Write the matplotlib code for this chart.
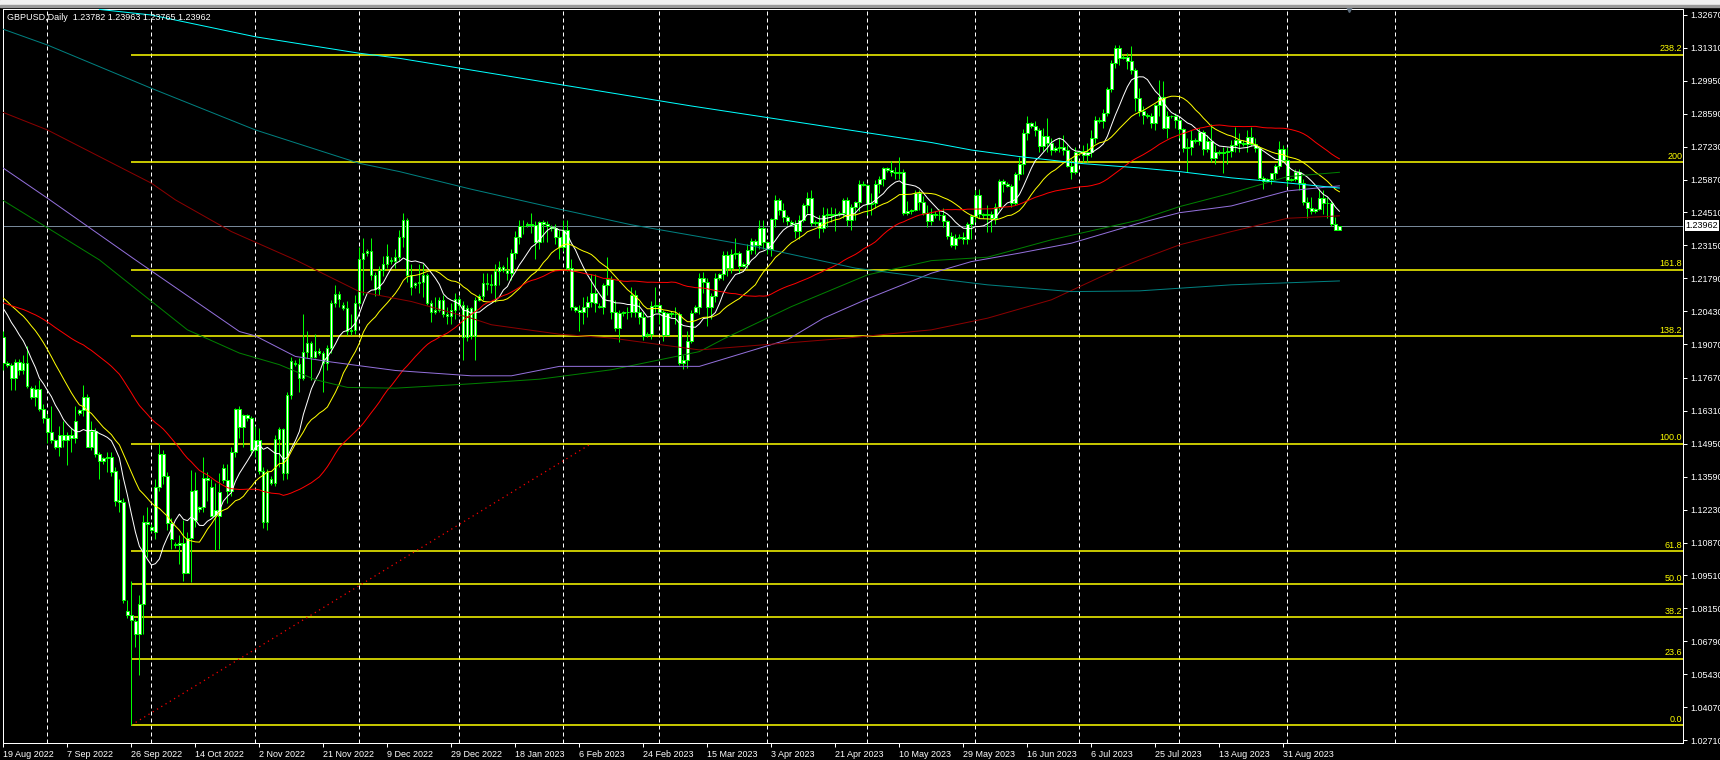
import numpy as np
import pandas as pd
import matplotlib
matplotlib.use('Agg')
import matplotlib.pyplot as plt
import matplotlib.transforms as mtrans
from matplotlib.patches import Rectangle

plt.rcParams['font.family'] = ['Liberation Sans', 'DejaVu Sans']

# daily bars of the broker: Sunday..Friday, no Saturdays
missing_days = ['2022-12-25', '2023-01-01', '2023-07-04']
all_days = pd.date_range('2022-08-19', '2023-09-17', freq='D')
bar_days = all_days[(all_days.dayofweek != 5) & ~all_days.isin(pd.to_datetime(missing_days))]

# one line per week (Sun..Fri)
opens = [1.1935,
    1.1830, 1.1822, 1.1768, 1.1834, 1.1800, 1.1830,
    1.1726, 1.1689, 1.1721, 1.1640, 1.1600, 1.1545,
    1.1511, 1.1480, 1.1530, 1.1510, 1.1530, 1.1520,
    1.1622, 1.1635, 1.1688, 1.1481, 1.1546, 1.1452,
    1.1424, 1.1437, 1.1440, 1.1384, 1.1262, 1.1256,
    1.0803, 1.0789, 1.0763, 1.0709, 1.0834, 1.1173,
    1.1150, 1.1131, 1.1317, 1.1454, 1.1361, 1.1169,
    1.1080, 1.1078, 1.1086, 1.0962, 1.1107, 1.1305,
    1.1225, 1.1235, 1.1355, 1.1317, 1.1200, 1.1198,
    1.1396, 1.1345, 1.1300, 1.1462, 1.1640, 1.1566,
    1.1615, 1.1603, 1.1471, 1.1510, 1.1383, 1.1172,
    1.1350, 1.1335, 1.1516, 1.1557, 1.1376, 1.1698,
    1.1830, 1.1825, 1.1767, 1.1876, 1.1913, 1.1855,
    1.1880, 1.1870, 1.1830, 1.1890, 1.2078, 1.2115,
    1.2070, 1.2058, 1.1962, 1.1965, 1.2078, 1.2259,
    1.2284, 1.2290, 1.2193, 1.2135, 1.2215, 1.2236,
    1.2255, 1.2250, 1.2268, 1.2351, 1.2420, 1.2193,
    1.2150, 1.2160, 1.2165, 1.2193, 1.2078, 1.2040,
    1.2050, 1.2090, 1.2030, 1.2025, 1.2050,
    1.2094, 1.2070, 1.1935, 1.2055, 1.1940,
    1.2090, 1.2105, 1.2160, 1.2155, 1.2150, 1.2210,
    1.2225, 1.2215, 1.2200, 1.2284, 1.2350, 1.2395,
    1.2400, 1.2405, 1.2400, 1.2329, 1.2413, 1.2405,
    1.2390, 1.2385, 1.2350, 1.2308, 1.2380, 1.2222,
    1.2060, 1.2050, 1.2040, 1.2060, 1.2080, 1.2120,
    1.2065, 1.2060, 1.2150, 1.2175, 1.2040, 1.1974,
    1.2035, 1.2040, 1.2040, 1.2110, 1.2040, 1.2020,
    1.1945, 1.1950, 1.2066, 1.2070, 1.2040, 1.1945,
    1.2035, 1.2030, 1.2030, 1.1830, 1.1840, 1.1920,
    1.2040, 1.2060, 1.2181, 1.2165, 1.2060, 1.2105,
    1.2180, 1.2195, 1.2276, 1.2220, 1.2280, 1.2285,
    1.2230, 1.2240, 1.2295, 1.2334, 1.2315, 1.2387,
    1.2330, 1.2300, 1.2424, 1.2503, 1.2462, 1.2434,
    1.2410, 1.2405, 1.2375, 1.2420, 1.2480, 1.2510,
    1.2408, 1.2410, 1.2385, 1.2440, 1.2445, 1.2440,
    1.2443, 1.2448, 1.2503, 1.2420, 1.2475, 1.2495,
    1.2569, 1.2565, 1.2486, 1.2490, 1.2569, 1.2590,
    1.2635, 1.2625, 1.2620, 1.2615, 1.2620, 1.2449,
    1.2455, 1.2460, 1.2530, 1.2495, 1.2450, 1.2415,
    1.2445, 1.2440, 1.2440, 1.2415, 1.2355, 1.2315,
    1.2345, 1.2350, 1.2340, 1.2405, 1.2435, 1.2525,
    1.2445, 1.2440, 1.2445, 1.2430, 1.2475, 1.2580,
    1.2570, 1.2560, 1.2490, 1.2610, 1.2650, 1.2780,
    1.2820, 1.2810, 1.2790, 1.2725, 1.2765, 1.2740,
    1.2710, 1.2718, 1.2720, 1.2710, 1.2645, 1.2620,
    1.2700, 1.2705, 1.2690, 1.2700, 1.2760,
    1.2835, 1.2830, 1.2860, 1.2960, 1.3070, 1.3131,
    1.3090, 1.3095, 1.3075, 1.3040, 1.2925, 1.2870,
    1.2855, 1.2850, 1.2820, 1.2895, 1.2928, 1.2800,
    1.2850, 1.2848, 1.2835, 1.2795, 1.2719, 1.2720,
    1.2751, 1.2748, 1.2785, 1.2713, 1.2746, 1.2675,
    1.2700, 1.2698, 1.2700, 1.2705, 1.2729, 1.2751,
    1.2740, 1.2735, 1.2763, 1.2735, 1.2718, 1.2594,
    1.2580, 1.2588, 1.2614, 1.2642, 1.2713, 1.2668,
    1.2585, 1.2590, 1.2620, 1.2572, 1.2496, 1.2470,
    1.2458, 1.2465, 1.2510, 1.2490, 1.2490, 1.2404,
    1.23782]

highs = [1.1960,
    1.1836, 1.1830, 1.1845, 1.1845, 1.1860, 1.1900,
    1.1735, 1.1740, 1.1760, 1.1660, 1.1620, 1.1650,
    1.1515, 1.1570, 1.1590, 1.1545, 1.1560, 1.1650,
    1.1640, 1.1740, 1.1700, 1.1590, 1.1560, 1.1460,
    1.1440, 1.1460, 1.1460, 1.1400, 1.1350, 1.1273,
    1.0848, 1.0926, 1.0772, 1.0871, 1.1202, 1.1235,
    1.1165, 1.1350, 1.1499, 1.1470, 1.1380, 1.1190,
    1.1090, 1.1120, 1.1181, 1.1130, 1.1388, 1.1380,
    1.1240, 1.1440, 1.1380, 1.1350, 1.1335, 1.1375,
    1.1410, 1.1410, 1.1480, 1.1645, 1.1650, 1.1620,
    1.1620, 1.1610, 1.1570, 1.1560, 1.1400, 1.1390,
    1.1360, 1.1530, 1.1565, 1.1560, 1.1710, 1.1855,
    1.1840, 1.1850, 1.2030, 1.1960, 1.1920, 1.1950,
    1.1890, 1.1880, 1.1905, 1.2090, 1.2153, 1.2125,
    1.2080, 1.2085, 1.2030, 1.2110, 1.2310, 1.2345,
    1.2300, 1.2345, 1.2205, 1.2230, 1.2270, 1.2320,
    1.2265, 1.2300, 1.2380, 1.2449, 1.2430, 1.2240,
    1.2165, 1.2240, 1.2240, 1.2200, 1.2090, 1.2100,
    1.2100, 1.2110, 1.2060, 1.2075, 1.2120,
    1.2105, 1.2085, 1.2070, 1.2060, 1.2100,
    1.2115, 1.2200, 1.2200, 1.2195, 1.2240, 1.2250,
    1.2235, 1.2265, 1.2300, 1.2375, 1.2420, 1.2420,
    1.2410, 1.2448, 1.2415, 1.2415, 1.2420, 1.2415,
    1.2400, 1.2405, 1.2380, 1.2420, 1.2420, 1.2260,
    1.2065, 1.2070, 1.2100, 1.2105, 1.2195, 1.2195,
    1.2075, 1.2160, 1.2269, 1.2190, 1.2090, 1.2050,
    1.2045, 1.2060, 1.2145, 1.2130, 1.2080, 1.2040,
    1.1955, 1.2085, 1.2145, 1.2080, 1.2050, 1.2040,
    1.2045, 1.2060, 1.2040, 1.1860, 1.1960, 1.2050,
    1.2070, 1.2200, 1.2205, 1.2180, 1.2120, 1.2200,
    1.2200, 1.2290, 1.2290, 1.2300, 1.2345, 1.2290,
    1.2245, 1.2320, 1.2345, 1.2340, 1.2420, 1.2420,
    1.2335, 1.2430, 1.2525, 1.2510, 1.2490, 1.2440,
    1.2420, 1.2420, 1.2440, 1.2490, 1.2535, 1.2545,
    1.2420, 1.2440, 1.2475, 1.2470, 1.2475, 1.2470,
    1.2455, 1.2510, 1.2515, 1.2485, 1.2500, 1.2585,
    1.2580, 1.2570, 1.2530, 1.2585, 1.2600, 1.2640,
    1.2640, 1.2665, 1.2640, 1.2680, 1.2630, 1.2500,
    1.2465, 1.2545, 1.2545, 1.2520, 1.2480, 1.2470,
    1.2455, 1.2465, 1.2470, 1.2420, 1.2370, 1.2360,
    1.2360, 1.2370, 1.2410, 1.2445, 1.2545, 1.2550,
    1.2450, 1.2480, 1.2455, 1.2490, 1.2590, 1.2590,
    1.2575, 1.2570, 1.2620, 1.2680, 1.2795, 1.2848,
    1.2825, 1.2830, 1.2800, 1.2800, 1.2840, 1.2760,
    1.2725, 1.2760, 1.2770, 1.2730, 1.2670, 1.2720,
    1.2710, 1.2730, 1.2740, 1.2790, 1.2850,
    1.2845, 1.2880, 1.2970, 1.3080, 1.3144, 1.3143,
    1.3100, 1.3110, 1.3140, 1.3050, 1.2965, 1.2890,
    1.2860, 1.2860, 1.2900, 1.2998, 1.2995, 1.2870,
    1.2855, 1.2860, 1.2840, 1.2800, 1.2760, 1.2790,
    1.2760, 1.2800, 1.2790, 1.2770, 1.2818, 1.2730,
    1.2710, 1.2720, 1.2720, 1.2750, 1.2806, 1.2780,
    1.2750, 1.2790, 1.2805, 1.2760, 1.2725, 1.2600,
    1.2592, 1.2615, 1.2650, 1.2745, 1.2730, 1.2720,
    1.2595, 1.2630, 1.2630, 1.2590, 1.2515, 1.2515,
    1.2470, 1.2550, 1.2545, 1.2515, 1.2500, 1.2434,
    1.23963]

lows = [1.1800,
    1.1812, 1.1717, 1.1716, 1.1780, 1.1785, 1.1725,
    1.1680, 1.1650, 1.1630, 1.1580, 1.1500, 1.1500,
    1.1475, 1.1445, 1.1480, 1.1409, 1.1460, 1.1500,
    1.1615, 1.1610, 1.1480, 1.1470, 1.1440, 1.1351,
    1.1410, 1.1380, 1.1360, 1.1240, 1.1212, 1.0839,
    1.0775, 1.0334, 1.0657, 1.0541, 1.0710, 1.1029,
    1.1130, 1.1100, 1.1300, 1.1330, 1.1140, 1.1060,
    1.1065, 1.1000, 1.0928, 1.0960, 1.0925, 1.1150,
    1.1215, 1.1215, 1.1260, 1.1200, 1.1057, 1.1060,
    1.1335, 1.1250, 1.1280, 1.1440, 1.1520, 1.1480,
    1.1590, 1.1450, 1.1440, 1.1370, 1.1146, 1.1140,
    1.1325, 1.1320, 1.1400, 1.1345, 1.1350, 1.1680,
    1.1815, 1.1710, 1.1760, 1.1850, 1.1760, 1.1850,
    1.1862, 1.1710, 1.1800, 1.1870, 1.2060, 1.2060,
    1.2050, 1.1945, 1.1945, 1.1950, 1.2065, 1.2110,
    1.2270, 1.2170, 1.2105, 1.2110, 1.2190, 1.2220,
    1.2240, 1.2220, 1.2250, 1.2310, 1.2165, 1.2110,
    1.2140, 1.2120, 1.2100, 1.2070, 1.2000, 1.2030,
    1.2040, 1.2020, 1.1990, 1.1990, 1.2010,
    1.2050, 1.1840, 1.1920, 1.1930, 1.1842,
    1.2085, 1.2090, 1.2130, 1.2120, 1.2080, 1.2150,
    1.2205, 1.2170, 1.2170, 1.2260, 1.2320, 1.2360,
    1.2390, 1.2365, 1.2260, 1.2300, 1.2330, 1.2330,
    1.2375, 1.2320, 1.2260, 1.2290, 1.2210, 1.2050,
    1.2040, 1.1960, 1.1990, 1.2020, 1.2060, 1.2040,
    1.2055, 1.2030, 1.2110, 1.2010, 1.1960, 1.1915,
    1.2025, 1.2010, 1.2020, 1.2020, 1.1990, 1.1925,
    1.1935, 1.1930, 1.2040, 1.1990, 1.1920, 1.1940,
    1.2020, 1.1990, 1.1820, 1.1803, 1.1810, 1.1910,
    1.2035, 1.2030, 1.2120, 1.1980, 1.2010, 1.2080,
    1.2170, 1.2170, 1.2190, 1.2200, 1.2260, 1.2200,
    1.2225, 1.2220, 1.2280, 1.2280, 1.2300, 1.2300,
    1.2280, 1.2270, 1.2390, 1.2440, 1.2410, 1.2400,
    1.2400, 1.2345, 1.2340, 1.2410, 1.2450, 1.2395,
    1.2400, 1.2345, 1.2370, 1.2390, 1.2410, 1.2375,
    1.2435, 1.2430, 1.2395, 1.2380, 1.2420, 1.2455,
    1.2560, 1.2440, 1.2440, 1.2470, 1.2530, 1.2560,
    1.2620, 1.2600, 1.2590, 1.2590, 1.2440, 1.2440,
    1.2445, 1.2455, 1.2460, 1.2440, 1.2390, 1.2400,
    1.2430, 1.2420, 1.2390, 1.2340, 1.2308, 1.2300,
    1.2340, 1.2320, 1.2320, 1.2340, 1.2410, 1.2430,
    1.2430, 1.2370, 1.2370, 1.2405, 1.2460, 1.2535,
    1.2555, 1.2475, 1.2480, 1.2585, 1.2610, 1.2750,
    1.2800, 1.2765, 1.2700, 1.2705, 1.2700, 1.2690,
    1.2700, 1.2700, 1.2690, 1.2640, 1.2590, 1.2610,
    1.2690, 1.2660, 1.2660, 1.2680, 1.2740,
    1.2820, 1.2800, 1.2850, 1.2950, 1.3050, 1.3060,
    1.3085, 1.3045, 1.3025, 1.2870, 1.2850, 1.2815,
    1.2840, 1.2800, 1.2790, 1.2850, 1.2795, 1.2760,
    1.2840, 1.2800, 1.2760, 1.2700, 1.2620, 1.2690,
    1.2740, 1.2730, 1.2690, 1.2700, 1.2660, 1.2650,
    1.2690, 1.2615, 1.2650, 1.2680, 1.2700, 1.2700,
    1.2725, 1.2700, 1.2725, 1.2700, 1.2585, 1.2546,
    1.2575, 1.2570, 1.2590, 1.2630, 1.2660, 1.2560,
    1.2580, 1.2580, 1.2545, 1.2480, 1.2430, 1.2445,
    1.2450, 1.2460, 1.2445, 1.2430, 1.2395, 1.2378,
    1.23765]

closes = [1.1830,
    1.1822, 1.1768, 1.1834, 1.1800, 1.1830, 1.1733,
    1.1689, 1.1721, 1.1640, 1.1600, 1.1545, 1.1511,
    1.1480, 1.1530, 1.1510, 1.1530, 1.1520, 1.1590,
    1.1635, 1.1688, 1.1481, 1.1546, 1.1452, 1.1424,
    1.1437, 1.1440, 1.1379, 1.1260, 1.1256, 1.0848,
    1.0789, 1.0765, 1.0709, 1.0834, 1.1173, 1.1165,
    1.1140, 1.1317, 1.1454, 1.1361, 1.1169, 1.1100,
    1.1078, 1.1086, 1.0962, 1.1107, 1.1301, 1.1181,
    1.1235, 1.1355, 1.1345, 1.1198, 1.1220, 1.1296,
    1.1345, 1.1300, 1.1462, 1.1640, 1.1566, 1.1615,
    1.1603, 1.1471, 1.1510, 1.1383, 1.1172, 1.1380,
    1.1335, 1.1516, 1.1557, 1.1376, 1.1698, 1.1837,
    1.1825, 1.1767, 1.1876, 1.1913, 1.1855, 1.1880,
    1.1870, 1.1830, 1.1890, 1.2078, 1.2115, 1.2095,
    1.2058, 1.1962, 1.1965, 1.2078, 1.2259, 1.2284,
    1.2290, 1.2193, 1.2135, 1.2215, 1.2236, 1.2270,
    1.2250, 1.2268, 1.2351, 1.2420, 1.2193, 1.2144,
    1.2160, 1.2165, 1.2193, 1.2078, 1.2040, 1.2050,
    1.2090, 1.2030, 1.2025, 1.2050, 1.2094,
    1.2070, 1.1935, 1.2055, 1.1940, 1.2090,
    1.2105, 1.2160, 1.2155, 1.2150, 1.2210, 1.2225,
    1.2215, 1.2200, 1.2284, 1.2350, 1.2395, 1.2395,
    1.2405, 1.2400, 1.2329, 1.2413, 1.2405, 1.2395,
    1.2385, 1.2350, 1.2308, 1.2380, 1.2222, 1.2060,
    1.2050, 1.2040, 1.2060, 1.2080, 1.2120, 1.2075,
    1.2060, 1.2150, 1.2175, 1.2040, 1.1974, 1.2035,
    1.2040, 1.2040, 1.2110, 1.2040, 1.2020, 1.1940,
    1.1950, 1.2066, 1.2070, 1.2040, 1.1945, 1.2035,
    1.2030, 1.2030, 1.1830, 1.1840, 1.1920, 1.2036,
    1.2060, 1.2181, 1.2165, 1.2060, 1.2105, 1.2180,
    1.2195, 1.2276, 1.2220, 1.2280, 1.2285, 1.2230,
    1.2240, 1.2295, 1.2334, 1.2315, 1.2387, 1.2330,
    1.2300, 1.2424, 1.2503, 1.2462, 1.2434, 1.2416,
    1.2405, 1.2375, 1.2420, 1.2480, 1.2510, 1.2408,
    1.2410, 1.2385, 1.2440, 1.2445, 1.2440, 1.2443,
    1.2448, 1.2503, 1.2420, 1.2475, 1.2495, 1.2569,
    1.2565, 1.2486, 1.2490, 1.2569, 1.2590, 1.2635,
    1.2625, 1.2620, 1.2615, 1.2620, 1.2449, 1.2455,
    1.2460, 1.2530, 1.2495, 1.2450, 1.2415, 1.2445,
    1.2440, 1.2440, 1.2415, 1.2355, 1.2315, 1.2345,
    1.2350, 1.2340, 1.2405, 1.2435, 1.2525, 1.2445,
    1.2440, 1.2445, 1.2430, 1.2475, 1.2580, 1.2570,
    1.2560, 1.2490, 1.2610, 1.2650, 1.2780, 1.2820,
    1.2810, 1.2790, 1.2725, 1.2765, 1.2740, 1.2710,
    1.2718, 1.2720, 1.2710, 1.2645, 1.2620, 1.2700,
    1.2705, 1.2690, 1.2700, 1.2760, 1.2835,
    1.2830, 1.2860, 1.2960, 1.3070, 1.3131, 1.3090,
    1.3095, 1.3075, 1.3040, 1.2925, 1.2870, 1.2855,
    1.2850, 1.2820, 1.2895, 1.2928, 1.2800, 1.2850,
    1.2848, 1.2835, 1.2795, 1.2719, 1.2720, 1.2751,
    1.2748, 1.2785, 1.2713, 1.2746, 1.2675, 1.2700,
    1.2698, 1.2700, 1.2705, 1.2729, 1.2751, 1.2740,
    1.2735, 1.2763, 1.2735, 1.2718, 1.2594, 1.2580,
    1.2588, 1.2614, 1.2642, 1.2713, 1.2668, 1.2585,
    1.2590, 1.2620, 1.2572, 1.2496, 1.2470, 1.2458,
    1.2465, 1.2510, 1.2490, 1.2490, 1.2404, 1.2380,
    1.23962]

# fast moving averages start values at the left edge
white_start = 1.2078
yellow_start = 1.2111
red_start = 1.2082

# slow moving averages, read at a few bars
green_idx = [0, 24, 46, 59, 69, 78, 86, 98, 117, 134, 152, 174, 180, 197, 216, 232, 246, 262, 284, 294, 307, 321, 334]
green_val = [1.2500, 1.2255, 1.1966, 1.1870, 1.1822, 1.1760, 1.1728, 1.1725, 1.1743, 1.1762, 1.1801, 1.1876,
             1.1928, 1.2062, 1.2193, 1.2252, 1.2266, 1.2338, 1.2420, 1.2475, 1.2531, 1.2599, 1.2617]
violet_idx = [0, 11, 33, 59, 63, 73, 82, 98, 117, 127, 139, 174, 196, 205, 216, 232, 242, 254, 267, 284, 294, 307, 321, 334]
violet_val = [1.2634, 1.2510, 1.2255, 1.1959, 1.1941, 1.1856, 1.1833, 1.1798, 1.1776, 1.1776, 1.1815, 1.1815,
              1.1925, 1.2014, 1.2094, 1.2200, 1.2248, 1.2283, 1.2324, 1.2407, 1.2450, 1.2478, 1.2540, 1.2561]
maroon_idx = [0, 11, 37, 43, 57, 73, 89, 102, 117, 122, 139, 152, 174, 209, 232, 246, 262, 279, 284, 294, 307, 321, 334]
maroon_val = [1.2864, 1.2792, 1.2572, 1.2503, 1.2372, 1.2255, 1.2124, 1.2083, 1.2014, 1.1987, 1.1948, 1.1932,
              1.1883, 1.1929, 1.1966, 1.2014, 1.2090, 1.2221, 1.2255, 1.2317, 1.2372, 1.2427, 1.2437]
teal_idx = [0, 11, 37, 63, 89, 99, 117, 139, 157, 174, 188, 213, 232, 246, 267, 284, 307, 334]
teal_val = [1.3208, 1.3143, 1.2964, 1.2792, 1.2654, 1.2620, 1.2547, 1.2465, 1.2400, 1.2351, 1.2310, 1.2221,
            1.2180, 1.2152, 1.2124, 1.2127, 1.2152, 1.2168]
cyan_idx = [24, 37, 63, 89, 99, 172, 232, 242, 254, 269, 284, 294, 307, 321, 334]
cyan_val = [1.3290, 1.3267, 1.3177, 1.3109, 1.3088, 1.2891, 1.2740, 1.2709, 1.2682, 1.2654, 1.2635, 1.2620,
            1.2594, 1.2573, 1.2552]

# fibonacci expansion drawn from the 26 Sep 2022 low
fib_anchor = 32
fib_low = 1.0333
fib_high = 1.1496
fib_end_bar = 147
fib_levels = [0.0, 23.6, 38.2, 50.0, 61.8, 100.0, 138.2, 161.8, 200, 238.2]
fib_labels = ['0.0', '23.6', '38.2', '50.0', '61.8', '100.0', '138.2', '161.8', '200', '238.2']

last_price = 1.23962
title = 'GBPUSD,Daily  1.23782 1.23963 1.23765 1.23962'
yticks = [1.32670, 1.31310, 1.29950, 1.28590, 1.27230, 1.25870, 1.24510, 1.23150, 1.21790, 1.20430,
          1.19070, 1.17670, 1.16310, 1.14950, 1.13590, 1.12230, 1.10870, 1.09510, 1.08150, 1.06790,
          1.05430, 1.04070, 1.02710]
label_step = 16
future_grid_days = 14  # next month line (1 Oct 2023) past the last bar


def sma(values, n, seed):
    s = pd.Series([seed] * (n - 1) + list(values))
    return s.rolling(n).mean().to_numpy()[n - 1:]


W, H = 1720, 760
fig = plt.figure(figsize=(W / 100, H / 100), dpi=100, facecolor='black')
ax = fig.add_axes([3 / W, 17 / H, 1680 / W, 734 / H])
ax.set_facecolor('black')

o = np.array(opens)
hi = np.array(highs)
lo = np.array(lows)
c = np.array(closes)
x = np.arange(len(c))

px = 0.72  # one pixel in points
lime = '#00ff00'

# month grid
month_start = [i for i in range(1, len(bar_days)) if bar_days[i].month != bar_days[i - 1].month]
month_start.append(len(bar_days) - 1 + future_grid_days)
for m in month_start:
    ax.axvline(m, color='white', lw=px, ls=(0, (4, 3)), zorder=1)

# fibo levels
span = fib_high - fib_low
for lev, lab in zip(fib_levels, fib_labels):
    yv = fib_low + span * lev / 100
    ax.plot([fib_anchor, 430], [yv, yv], color='#ffff00', lw=1.1, zorder=2, solid_capstyle='butt')
    ax.text(0.9995, yv + 0.0006, lab, transform=mtrans.blended_transform_factory(ax.transAxes, ax.transData),
            ha='right', va='bottom', color='#ffff00', fontsize=6.5, zorder=6)
ax.plot([fib_anchor, fib_end_bar], [fib_low, fib_high], color='#ff0000', lw=0.9, ls=(0, (1, 3)), zorder=2)

# current price line
ax.axhline(last_price, color='#778899', lw=px, zorder=2)

# candles
ax.vlines(x, lo, hi, color=lime, lw=px, zorder=3)
body_lo = np.minimum(o, c)
body_h = np.maximum(np.abs(c - o), 0.00008)
ax.bar(x, body_h, bottom=body_lo, width=0.55, color='white', edgecolor=lime, linewidth=px, zorder=3)

# moving averages
ax.plot(x, sma(c, 10, white_start), color='white', lw=px, zorder=4)
ax.plot(x, sma(c, 20, yellow_start), color='#ffff00', lw=px, zorder=4)
ax.plot(x, sma(c, 50, red_start), color='#ff0000', lw=px, zorder=4)
ax.plot(green_idx, green_val, color='#008000', lw=px, zorder=4)
ax.plot(violet_idx, violet_val, color='#9370db', lw=px, zorder=4)
ax.plot(maroon_idx, maroon_val, color='#8b0000', lw=px, zorder=4)
ax.plot(teal_idx, teal_val, color='#008080', lw=px, zorder=4)
ax.plot(cyan_idx, cyan_val, color='#00ffff', lw=px, zorder=4)

# axes
kpp = (1.32670 - 1.02710) / 725
ax.set_ylim(1.02710 - 3 * kpp, 1.32670 + 6 * kpp)
ax.set_xlim(-0.1, -0.1 + 1680 / 4)

for s in ax.spines.values():
    s.set_color('white')
    s.set_linewidth(px)

ax.yaxis.tick_right()
ax.set_yticks(yticks)
ax.set_yticklabels(['%.5f' % v for v in yticks])
ax.tick_params(axis='y', colors='white', labelcolor='white', labelsize=6.5, length=3, width=px, pad=2)

lab_pos = list(range(0, len(bar_days), label_step))
ax.set_xticks(lab_pos)
ax.set_xticklabels([f'{bar_days[i].day} {bar_days[i]:%b %Y}' for i in lab_pos])
for t in ax.get_xticklabels():
    t.set_ha('left')
ax.tick_params(axis='x', colors='white', labelcolor='white', labelsize=6.5, length=3, width=px, pad=2)

# price tag on the scale
ax.text(1.0015, last_price, '%.5f' % last_price,
        transform=mtrans.blended_transform_factory(ax.transAxes, ax.transData),
        ha='left', va='center', color='black', fontsize=6.5, clip_on=False, zorder=7,
        bbox=dict(facecolor='white', edgecolor='none', pad=0.6))

# shift marker
ax.plot([len(c) + 1.4], [1.0], transform=mtrans.blended_transform_factory(ax.transData, ax.transAxes),
        marker='v', color='#5f6f7f', ms=5, clip_on=False, zorder=8)

fig.text(7 / W, 1 - 17 / H, title, color='white', fontsize=6.5, va='center', ha='left')

# toolbar strip at the top
fig.patches.append(Rectangle((0, 1 - 5 / H), 1, 5 / H, transform=fig.transFigure, color='#f0f0f0', zorder=0))
fig.patches.append(Rectangle((0, 1 - 7 / H), 1, 2 / H, transform=fig.transFigure, color='#9a9a9a', zorder=0))

fig.savefig('out.png', dpi=100, facecolor='black')
